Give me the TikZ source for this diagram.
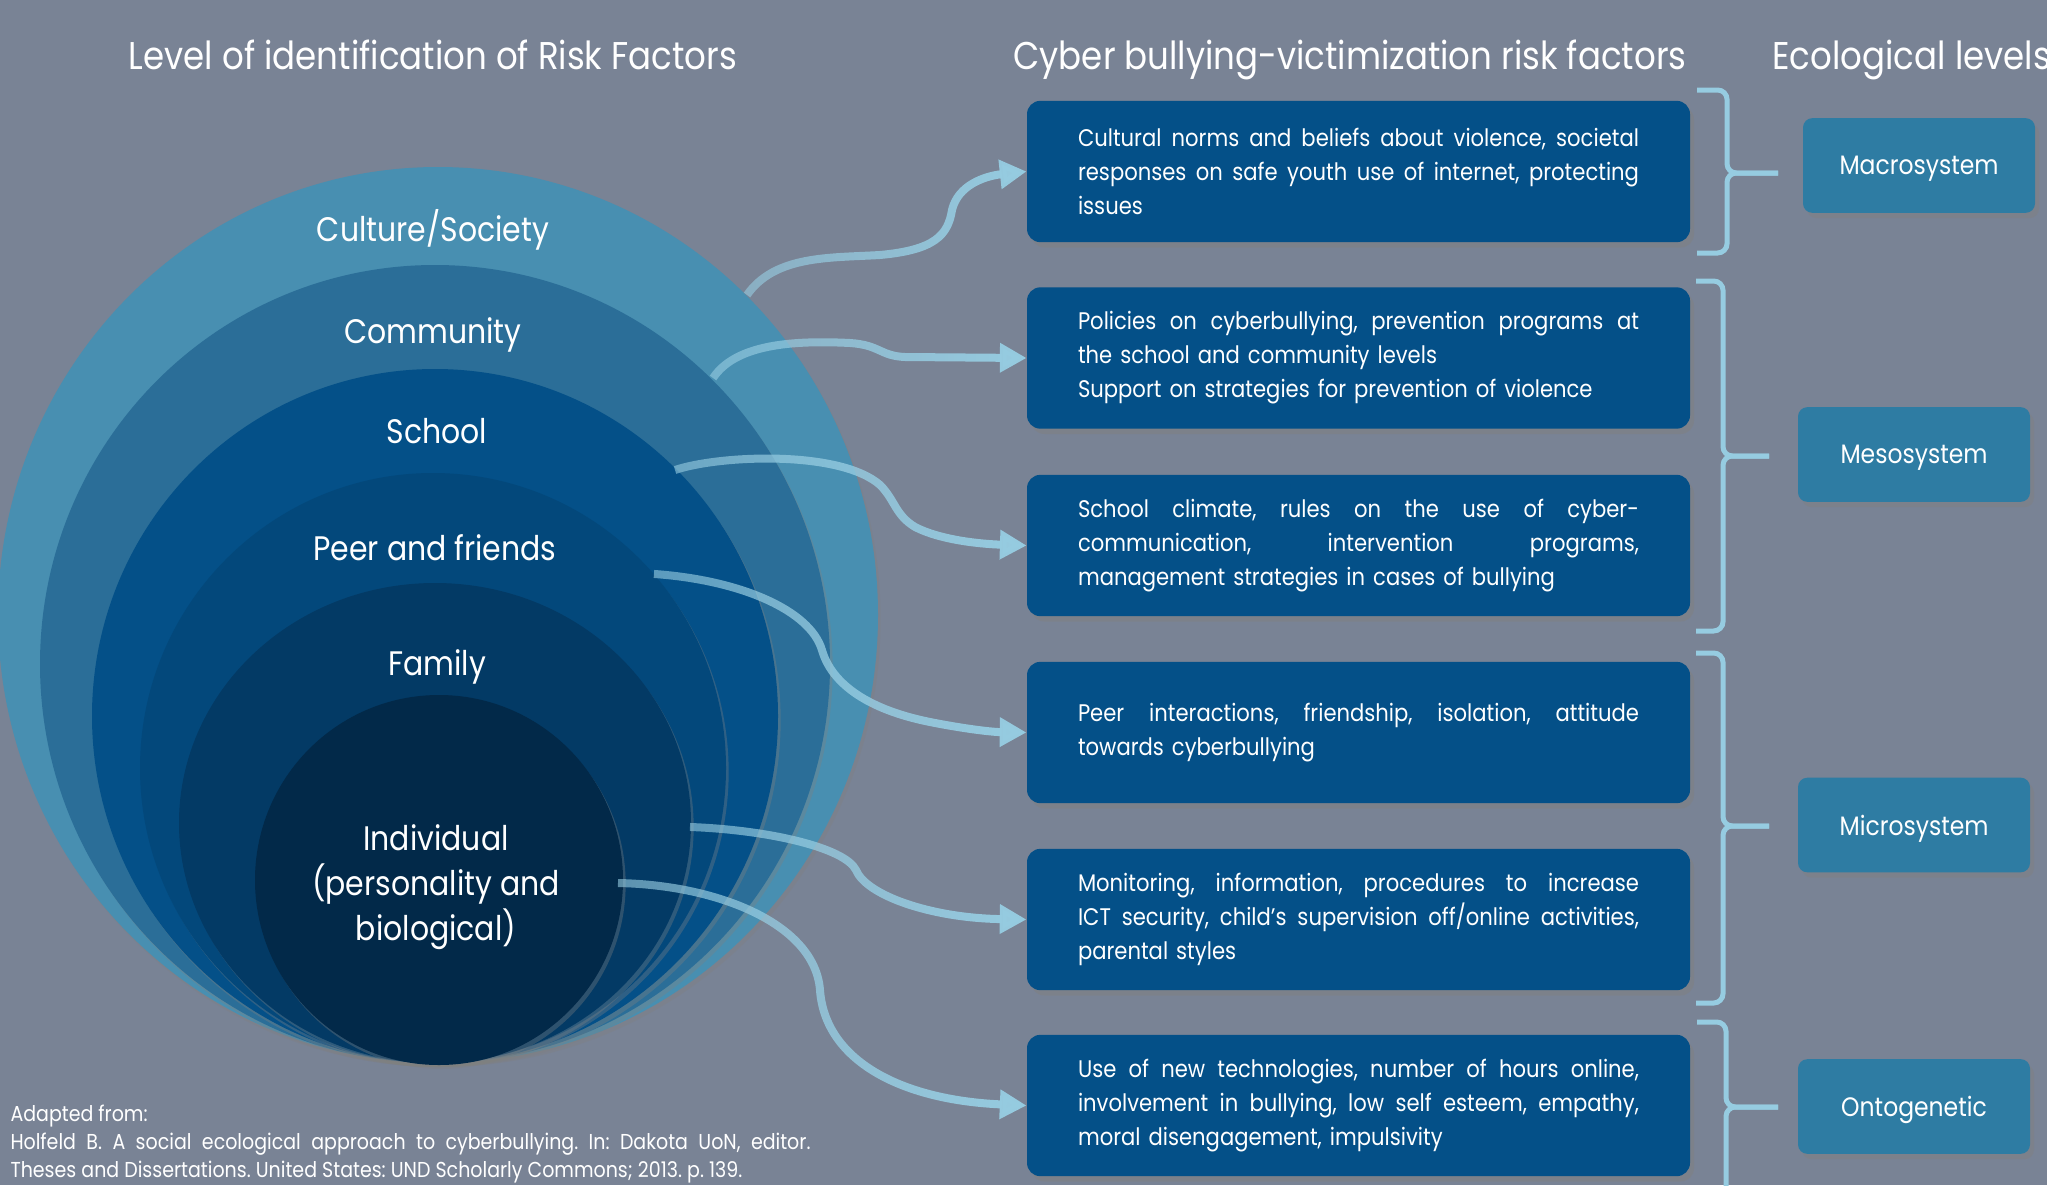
\documentclass[tikz,border=0pt]{standalone}
\usepackage{fontspec}
\setmainfont{Poppins}[FakeStretch=0.88]
\usetikzlibrary{arrows.meta,shadows,fadings}

\definecolor{bgcol}{RGB}{121,131,149}
\definecolor{ringA}{RGB}{72,143,177}
\definecolor{ringB}{RGB}{43,110,152}
\definecolor{ringC}{RGB}{4,80,136}
\definecolor{ringD}{RGB}{3,72,123}
\definecolor{ringE}{RGB}{3,58,101}
\definecolor{ringF}{RGB}{2,41,73}
\definecolor{riskcol}{RGB}{4,80,136}
\definecolor{ecocol}{RGB}{46,124,163}
\definecolor{linkcol}{RGB}{150,204,225}

\frenchspacing
\newlength{\risktw}
\setlength{\risktw}{420.75pt}
\newcommand{\spreadline}[2]{\makebox[#1][s]{\spaceskip=\fontdimen2\font plus 1fil\relax #2}}
\newcommand{\justline}[1]{\spreadline{\risktw}{#1}}

\tikzfading[name=linkfade, left color=transparent!40, right color=transparent!0]

\tikzset{every picture/.style={line width=0.75pt}}

\begin{document}
\begin{tikzpicture}[x=0.75pt,y=0.75pt,yscale=-1,xscale=1,
  ring/.style={draw=none, drop shadow={opacity=0.35, shadow xshift=2pt, shadow yshift=-3pt}},
  ringlabel/.style={text=white, font=\fontsize{25.5}{33.4}\selectfont, align=center, inner sep=0pt, anchor=base},
  riskbox/.style={fill=riskcol, rounded corners=10pt, minimum width=497pt, minimum height=106pt, text width=420.75pt, inner xsep=38.25pt, inner ysep=0pt, align=left, text=white, font=\fontsize{18}{25.5}\selectfont, drop shadow={opacity=0.5, shadow xshift=3pt, shadow yshift=-4pt}},
  ecobox/.style={fill=ecocol, rounded corners=7pt, minimum width=174pt, minimum height=71pt, inner sep=0pt, text depth=0pt, text=white, font=\fontsize{20}{24}\selectfont, drop shadow={opacity=0.45, shadow xshift=3pt, shadow yshift=-4pt}},
  link/.style={draw=linkcol, line width=6pt, -{Triangle[width=21pt,length=20pt]}, path fading=linkfade},
  bracket/.style={draw=linkcol, line width=3.75pt, rounded corners=7pt},
  heading/.style={text=white, font=\fontsize{29}{35}\selectfont, inner sep=0pt, anchor=base}
]
\useasboundingbox (0,0) rectangle (2047,1185);
\clip (0,0) rectangle (2047,1185);

%Shape: Rectangle (background)
\fill[bgcol] (0,0) rectangle (2047,1185);

%Shape: Ellipse (culture / society)
\fill[ring, ringA] (438,615) ellipse [x radius=440, y radius=448];
%Shape: Ellipse (community)
\fill[ring, ringB] (435,664) ellipse [x radius=395, y radius=399];
%Shape: Ellipse (school)
\fill[ring, ringC] (435,716) ellipse [x radius=343, y radius=347];
%Shape: Ellipse (peer and friends)
\fill[ring, ringD] (433,768) ellipse [x radius=293, y radius=295];
%Shape: Ellipse (family)
\fill[ring, ringE] (435,823) ellipse [x radius=256, y radius=240];
%Shape: Ellipse (individual)
\fill[ring, ringF] (439,880) ellipse [x radius=184, y radius=185];

% Text Node
\node[heading] (lefttitle) at (433,69) {Level of identification of Risk Factors};
% Text Node
\node[heading] (midtitle) at (1350,69) {Cyber bullying-victimization risk factors};
% Text Node
\node[heading, anchor=base west] (righttitle) at (1772,69) {Ecological levels};

% Text Node
\node[ringlabel] (culture) at (433,241) {Culture/Society};
% Text Node
\node[ringlabel] (community) at (433,343) {Community};
% Text Node
\node[ringlabel] (school) at (437,443) {School};
% Text Node
\node[ringlabel] (peer) at (435,560) {Peer and friends};
% Text Node
\node[ringlabel] (family) at (437,675) {Family};
% Text Node
\node[ringlabel] (individual) at (436,940) {Individual\\(personality and\\biological)};

%Shape: Rounded Rect (risk factors)
\node[riskbox] (r1) at (1358.5,171.5) {\justline{Cultural norms and beliefs about violence, societal}\\\justline{responses on safe youth use of internet, protecting}\\issues};
\node[riskbox] (r2) at (1358.5,358) {\justline{Policies on cyberbullying, prevention programs at}\\the school and community levels\\Support on strategies for prevention of violence};
\node[riskbox] (r3) at (1358.5,545.5) {\justline{School climate, rules on the use of cyber-}\\\justline{communication, intervention programs,}\\management strategies in cases of bullying};
\node[riskbox] (r4) at (1358.5,732.5) {\justline{Peer interactions, friendship, isolation, attitude}\\towards cyberbullying};
\node[riskbox] (r5) at (1358.5,919.5) {\justline{Monitoring, information, procedures to increase}\\\justline{ICT security, child's supervision off/online activities,}\\parental styles};
\node[riskbox] (r6) at (1358.5,1105.5) {\justline{Use of new technologies, number of hours online,}\\\justline{involvement in bullying, low self esteem, empathy,}\\moral disengagement, impulsivity};

%Shape: Rounded Rect (ecological levels)
\node[ecobox] (macro) at (1919,165.5) {Macrosystem};
\node[ecobox] (meso) at (1914,454.5) {Mesosystem};
\node[ecobox] (micro) at (1914,825) {Microsystem};
\node[ecobox] (onto) at (1914,1106.5) {Ontogenetic};

%Shape: Bracket
\draw[bracket] (1697,90) -- (1727,90) -- (1727,173) -- (1778,173);
\draw[bracket] (1697,253) -- (1727,253) -- (1727,173) -- (1778,173);
%Shape: Bracket
\draw[bracket] (1696,281) -- (1723,281) -- (1723,456) -- (1769,456);
\draw[bracket] (1696,631) -- (1723,631) -- (1723,456) -- (1769,456);
%Shape: Bracket
\draw[bracket] (1696,653) -- (1723,653) -- (1723,826) -- (1769,826);
\draw[bracket] (1696,1003) -- (1723,1003) -- (1723,826) -- (1769,826);
%Shape: Bracket
\draw[bracket] (1697,1022) -- (1726,1022) -- (1726,1107) -- (1778,1107);
\draw[bracket] (1697,1260) -- (1726,1260) -- (1726,1107) -- (1778,1107);

% arrow start points on the rings
\coordinate (cultureout) at (747,295);
\coordinate (communityout) at (713,378);
\coordinate (schoolout) at (675,470);
\coordinate (peerout) at (654,574);
\coordinate (familyout) at (690,827);
\coordinate (individualout) at (618,883);

%Curve Lines
\draw[link] (cultureout) .. controls (775,255) and (830,258) .. (880,255) .. controls (935,250) and (948,235) .. (952,210) .. controls (958,185) and (985,176) .. (r1.west);
%Curve Lines
\draw[link] (communityout) .. controls (735,345) and (790,340) .. (850,343) .. controls (880,345) and (880,356) .. (905,357) -- (r2.west);
%Curve Lines
\draw[link] (schoolout) .. controls (720,455) and (840,450) .. (880,485) .. controls (895,500) and (895,515) .. (915,527) .. controls (940,540) and (980,544) .. (r3.west);
%Curve Lines
\draw[link] (peerout) .. controls (740,580) and (810,610) .. (822,650) .. controls (832,685) and (870,710) .. (930,722) .. controls (960,728) and (990,732) .. (r4.west);
%Curve Lines
\draw[link] (familyout) .. controls (770,830) and (845,848) .. (856,870) .. controls (866,895) and (930,918) .. (r5.west);
%Curve Lines
\draw[link] (individualout) .. controls (720,885) and (815,925) .. (820,990) .. controls (825,1060) and (900,1100) .. (r6.west);

% Text Node
\node[anchor=base west, inner sep=0pt, text=white, align=left, font=\fontsize{16.2}{21}\selectfont] (source) at (10,1177) {Adapted from:\\\spreadline{600pt}{Holfeld B. A social ecological approach to cyberbullying. In: Dakota UoN, editor.}\\Theses and Dissertations. United States: UND Scholarly Commons; 2013. p. 139.};

\end{tikzpicture}
\end{document}
